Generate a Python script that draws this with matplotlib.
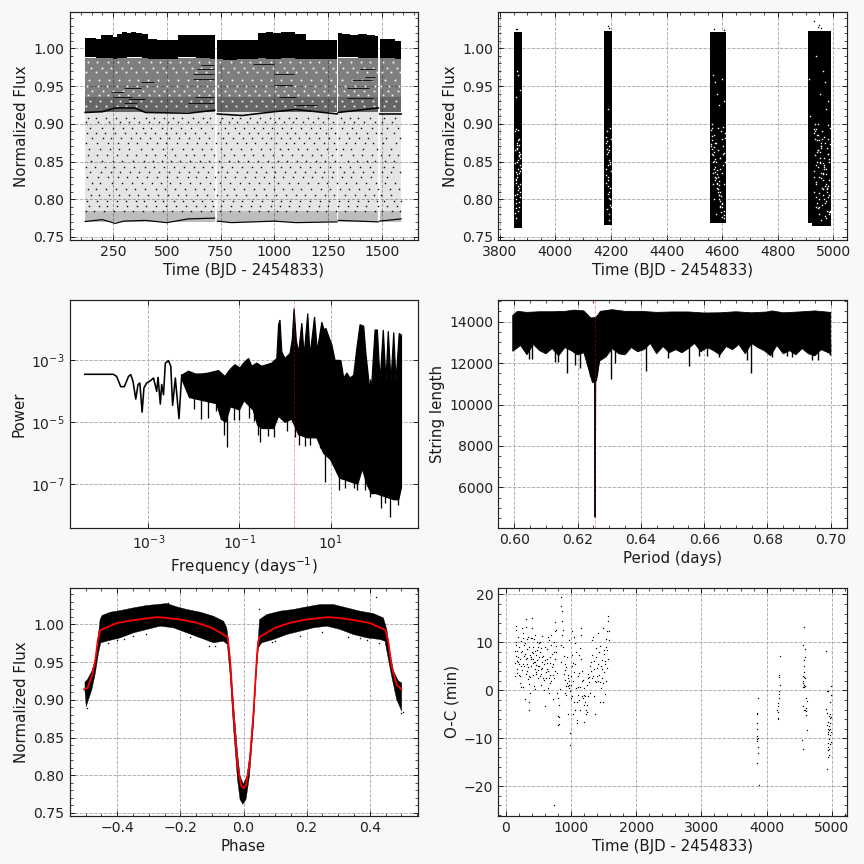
import numpy as np
import matplotlib
matplotlib.use("Agg")
import matplotlib.pyplot as plt
from matplotlib.ticker import AutoMinorLocator, NullLocator

nan = np.nan
# --- Panel 1: long-cadence light curve
lc_t = [120,150,190,195,215,240,255,285,300,325,345,370,395,425,480,545,560,590,620,650,680,722,nan,
        735,790,860,900,945,975,1010,1050,1080,1115,1180,1292,nan,
        1297,1330,1370,1410,1450,1484,nan,1490,1530,1590]
lc_top = [1.014,1.014,1.013,1.018,1.017,1.018,1.015,1.019,1.021,1.020,1.022,1.020,1.019,1.012,1.0105,1.011,1.018,1.017,1.018,1.017,1.018,1.018,nan,
          1.011,1.011,1.011,1.0105,1.020,1.021,1.020,1.021,1.022,1.019,1.011,1.011,nan,
          1.020,1.019,1.018,1.019,1.018,1.016,nan,1.012,1.012,1.010]
lc_bot = [.988,.988,.987,.987,.987,.987,.986,.987,.987,.988,.989,.988,.987,.986,.986,.986,.988,.989,.988,.987,.987,.986,nan,
          .986,.985,.986,.986,.987,.986,.986,.987,.987,.986,.986,.986,nan,
          .988,.988,.988,.987,.987,.987,nan,.987,.987,.986]
seg_t0 = [120,735,1297,1490]
seg_t1 = [722,1292,1484,1590]
band_lo = [.770,.785,.915,.935]
band_hi = [.785,.915,.935,.987]
band_density = [.26,.10,.60,.50]
eclipse2_t = [120,200,260,350,400,600,722,nan,735,850,1000,1100,1292,nan,1297,1484,nan,1490,1590]
eclipse2_f = [.915,.916,.921,.921,.915,.914,.918,nan,.913,.911,.916,.919,.913,nan,.915,.921,nan,.913,.913]
eclipse1_t = [120,200,260,300,400,500,600,722,nan,735,800,1000,1100,1292,nan,1297,1484,nan,1490,1590]
eclipse1_f = [.7705,.773,.768,.771,.772,.769,.774,.775,nan,.771,.769,.771,.769,.770,nan,.772,.770,nan,.771,.774]
dash_f  = [.978,.972,.966,.960,.956,.948,.942,.936,.933,.928,.979,.966,.958,.947,.936,.934,.962,.952,.936,.972,.925,.928]
dash_t0 = [660,640,620,620,380,300,240,250,320,600,900,1000,1360,1340,1020,1340,1420,1000,630,1400,1090,300]
dash_t1 = [720,720,720,720,440,380,300,340,400,720,1000,1090,1460,1440,1100,1460,1470,1080,720,1470,1200,360]
sparse_rows_f = [.908,.902,.895,.888,.881,.874,.866,.858,.851,.843,.836,.829,.821,.813,.806,.798,.791,.784]
sparse_rows_t = [
 [135,172,218,264,311,347,402,439,486,528,571,622,668,701,758,803,842,889,933,978,1021,1066,1102,1155,1201,1248,1308,1352,1391,1443,1512,1561],
 [126,181,229,283,326,369,415,462,503,553,598,644,689,747,791,828,872,918,957,1003,1044,1089,1133,1178,1226,1273,1326,1371,1418,1466,1503,1548],
 [144,196,248,297,338,389,427,478,519,566,612,657,712,772,815,861,904,949,991,1037,1078,1124,1169,1214,1262,1316,1363,1404,1452,1526,1574],
 [129,168,214,259,305,355,398,447,494,541,583,631,676,739,784,836,881,926,969,1012,1058,1097,1146,1192,1239,1283,1338,1381,1429,1473,1497,1555],
 [153,204,242,288,331,376,422,468,512,558,604,649,695,763,809,852,897,941,985,1029,1071,1117,1161,1208,1253,1302,1347,1396,1437,1519,1583],
 [122,177,225,271,319,363,409,452,497,547,593,638,684,729,776,824,868,912,963,1008,1052,1093,1139,1186,1232,1277,1332,1375,1423,1461,1506,1567],
 [139,188,235,279,324,381,433,482,525,575,617,663,706,751,797,845,892,937,981,1026,1063,1109,1152,1197,1244,1288,1319,1358,1412,1478,1541],
 [131,174,221,267,315,358,404,444,491,536,588,627,672,718,766,812,857,901,946,994,1035,1083,1128,1173,1219,1267,1311,1366,1408,1456,1494,1534,1577],
 [147,199,251,293,341,392,437,476,521,563,609,652,698,742,788,833,878,922,972,1016,1061,1105,1148,1194,1236,1281,1341,1386,1431,1469,1516,1558],
 [124,166,212,256,302,349,396,441,488,531,579,624,666,710,755,801,848,894,939,988,1032,1075,1121,1164,1211,1257,1306,1353,1399,1447,1508,1552],
 [142,193,238,284,329,372,418,465,509,556,601,646,692,736,781,827,874,916,959,1005,1049,1094,1142,1187,1229,1275,1323,1368,1414,1459,1499,1545,1586],
 [128,179,227,274,316,361,407,455,499,549,596,634,681,725,770,818,864,909,954,998,1042,1086,1131,1176,1222,1269,1313,1356,1402,1449,1522],
 [150,191,244,290,336,383,429,472,516,561,607,654,701,745,794,839,884,930,975,1019,1068,1112,1158,1203,1246,1291,1335,1379,1426,1471,1513,1562],
 [133,171,216,262,308,353,400,449,493,539,586,629,674,721,768,814,859,906,951,1000,1039,1081,1126,1171,1216,1260,1304,1349,1393,1439,1482,1537,1579],
 [146,186,232,277,322,367,413,459,506,551,591,642,687,733,778,821,870,914,961,1010,1054,1099,1144,1190,1234,1279,1328,1373,1420,1463,1496,1543],
 [127,175,220,266,310,356,394,443,484,534,577,621,665,708,760,806,850,896,943,987,1030,1073,1119,1166,1212,1255,1300,1344,1389,1434,1476,1510,1557,1588],
 [137,183,223,269,314,359,405,451,495,543,589,636,679,716,753,799,846,890,935,983,1024,1070,1114,1159,1206,1251,1296,1343,1384,1428,1480,1524,1569],
 [123,163,207,253,299,344,391,435,480,523,569,614,659,703,749,793,837,882,927,971,1014,1056,1101,1150,1199,1242,1286,1329,1377,1421,1468,1502,1549,1585]]
mid_rows_f = [.982,.974,.968,.958,.950,.944,.938,.930,.923]
mid_rows_t = [
 [132,175,226,271,318,372,425,469,516,562,604,648,696,749,798,843,887,932,984,1026,1071,1118,1164,1207,1258,1306,1355,1402,1445,1507,1553],
 [146,198,241,289,334,387,436,481,530,575,619,661,707,763,812,859,903,947,996,1043,1086,1133,1182,1226,1273,1321,1367,1416,1461,1522,1571],
 [125,169,215,264,309,355,401,452,498,544,590,635,683,741,786,829,875,921,967,1012,1057,1101,1149,1196,1241,1288,1338,1384,1429,1476,1499,1541,1584],
 [138,186,233,279,326,365,414,460,507,553,599,642,700,752,805,851,896,939,986,1032,1078,1126,1172,1219,1265,1314,1359,1408,1453,1515,1563],
 [129,178,222,268,315,361,408,455,501,549,594,640,688,736,781,826,870,916,961,1006,1052,1097,1143,1190,1235,1282,1329,1375,1422,1468,1496,1534,1578],
 [152,203,250,297,343,391,440,486,533,579,626,671,715,772,819,864,911,956,1001,1047,1092,1138,1186,1232,1278,1325,1371,1419,1463,1528,1575],
 [135,182,228,275,321,369,418,463,511,558,603,650,694,744,790,835,882,928,973,1019,1064,1110,1156,1203,1249,1296,1343,1390,1436,1504,1548],
 [144,191,238,284,330,378,426,473,520,566,612,657,705,757,802,848,893,941,988,1035,1081,1128,1175,1222,1269,1316,1363,1410,1457,1518,1566],
 [126,172,219,266,312,358,404,450,496,542,588,634,680,726,776,822,868,914,960,1004,1050,1096,1142,1188,1234,1280,1326,1372,1418,1464,1510,1556]]
# --- Panel 2: short-cadence seasons (min t, max t, top flux, bottom flux)
sc_t0 = [3851,4176,4556,4909,4924]
sc_t1 = [3880,4204,4614,4922,4992]
sc_top = [1.022,1.023,1.021,1.023,1.023]
sc_bot = [.7625,.7655,.769,.768,.765]
sc_out_t = [3858,4190,4192,4930,4945,4950,4955,4570,3862,4605]
sc_out_f = [1.026,1.030,1.027,1.036,1.028,1.031,1.027,1.025,1.026,1.024]
gap_t = [3856,3862,3870,3866,3858,3874,3860,3868,3872,3856,3864,3870,3860,3866,3874,3858,3868,3862,3872,3856,3866,3864,3860,3870,3868,3874,3862,3858,3866,3872,
         4186,4192,4198,4188,4194,4200,4184,4190,4196,4186,4192,4198,4188,4194,4190,4196,4184,4200,
         4562,4570,4578,4586,4594,4602,4566,4574,4582,4590,4598,4606,4560,4568,4576,4584,4592,4600,4564,4572,4580,4588,4596,4604,4610,4562,4570,4578,4586,4594,4602,4608,4566,4574,4582,4590,4598,4606,4568,4576,4584,4592,4600,
         4935,4945,4955,4965,4975,4985,4930,4940,4950,4960,4970,4980,4938,4948,4958,4968,4978,4988,4933,4943,4953,4963,4973,4983,4936,4946,4956,4966,4976,4986,4941,4951,4961,4971,4981,4931,4947,4957,4967,4977,4987,4934,4944,4954,4964,4974,4984,4939,4949,4959,4969,4979,4937,4952,4962,4972,4982,4942,4912,4917,
         3859,3865,3871,3855,3861,3867,3873,3857,3863,3869,3875,3859,3865,3871,3855,3861,3867,3873,3857,3863,
         4181,4187,4193,4199,4183,4189,4195,4185,4191,4197,4182,4188,4194,4186,4192,
         4559,4565,4571,4577,4583,4589,4595,4601,4607,4563,4569,4575,4581,4587,4593,4599,4605,4611,4561,4567,4573,4579,4585,4591,4597,4603,4609,4564,4570,4576,4582,4588,4594,4600,4606,
         4932,4942,4952,4962,4972,4982,4936,4946,4956,4966,4976,4986,4929,4939,4949,4959,4969,4979,4989,4934,4944,4954,4964,4974,4984,4931,4941,4951,4961,4971,4981,4937,4947,4957,4967,4977,4987]
gap_f = [.89,.875,.858,.84,.825,.81,.795,.88,.845,.865,.83,.815,.80,.785,.86,.836,.872,.85,.82,.805,.892,.868,.775,.79,.835,.855,.97,.935,.965,.945,
         .89,.87,.85,.83,.81,.79,.875,.845,.815,.86,.78,.895,.825,.865,.92,.80,.84,.88,
         .895,.885,.875,.865,.855,.845,.835,.825,.815,.805,.795,.785,.87,.85,.83,.81,.79,.88,.86,.84,.82,.80,.89,.87,.85,.90,.80,.78,.83,.84,.86,.82,.965,.955,.94,.925,.96,.93,.82,.875,.895,.855,.835,
         .90,.885,.87,.855,.84,.825,.81,.795,.78,.89,.875,.86,.845,.83,.815,.80,.785,.895,.88,.865,.85,.835,.82,.805,.79,.90,.87,.84,.81,.78,.885,.855,.825,.795,.86,.83,.80,.875,.845,.815,.785,.89,.865,.835,.805,.775,.85,.82,.79,.88,.955,.93,.99,.94,.97,.92,.88,.85,.96,.91,
         .893,.878,.862,.848,.833,.818,.803,.788,.872,.857,.842,.827,.812,.797,.782,.867,.852,.837,.822,.807,
         .882,.867,.852,.837,.822,.807,.792,.877,.862,.847,.832,.817,.802,.787,.772,
         .892,.878,.863,.849,.834,.819,.804,.79,.775,.884,.869,.854,.839,.824,.809,.794,.779,.888,.873,.858,.843,.828,.813,.798,.783,.896,.881,.866,.851,.836,.821,.806,.791,.776,.861,
         .893,.878,.863,.848,.833,.818,.803,.788,.773,.883,.868,.853,.838,.823,.808,.793,.778,.898,.873,.858,.843,.828,.813,.798,.783,.888,.863,.848,.833,.818,.803,.893,.878,.868,.843,.813,.783]
# --- Panel 3: periodogram (log10 values)
pg_logf = [-4.40,-3.77,-3.70,-3.61,-3.53,-3.44,-3.39,-3.34,-3.28,-3.23,-3.19,-3.14,-3.10,-3.04,-2.96,-2.89,-2.82,-2.79,-2.74,-2.71,-2.67,-2.63,-2.56,-2.51,-2.47,-2.41,-2.33,-2.27]
pg_logp = [-3.45,-3.45,-3.52,-3.85,-3.85,-3.52,-3.46,-3.68,-4.25,-3.78,-3.73,-4.67,-3.89,-3.73,-3.66,-3.57,-4.0,-3.55,-4.41,-3.78,-4.11,-3.09,-3.01,-3.19,-4.45,-3.57,-4.88,-3.48]
up_logf = [-2.27,-2.19,-2.12,-1.97,-1.83,-1.68,-1.46,-1.32,-1.21,-1.10,-.99,-.91,-.80,-.73,-.62,-.51,-.40,-.29,-.18,-.14,-.11,-.07,0,.11,.16,.20,.25,.30,.37,.42,.50,.55,.65,.71,.81,.86,.90,.96,1.03,1.10,1.18,1.23,1.29,1.36,1.43,1.51,1.58,1.65,1.73,1.78,1.86,1.91,1.98,2.03,2.09,2.16,2.22,2.27,2.33,2.39,2.44,2.51,2.56]
up_logp = [-3.48,-3.41,-3.35,-3.44,-3.44,-3.41,-3.33,-3.52,-3.30,-3.14,-3.25,-3.09,-2.94,-3.19,-3.09,-3.19,-3.14,-3.09,-2.94,-1.85,-1.70,-2.73,-2.94,-2.78,-2.33,-1.33,-2.38,-2.75,-1.80,-2.84,-1.49,-2.84,-1.60,-2.69,-1.77,-2.02,-1.97,-2.23,-2.5,-3.0,-3.0,-3.01,-3.57,-3.41,-3.57,-3.48,-2.60,-1.85,-1.90,-2.81,-3.89,-3.68,-2.02,-2.02,-3.68,-2.02,-3.68,-2.06,-3.68,-2.10,-3.68,-2.13,-2.19]
lo_logf = [-2.27,-2.1,-1.8,-1.5,-1.4,-1.3,-1.2,-1.0,-.9,-.7,-.6,-.5,-.4,-.25,-.14,0,.15,.3,.5,.7,.85,1.0,1.2,1.4,1.6,1.7,1.8,1.9,2.0,2.2,2.4,2.5,2.56]
lo_logp = [-3.6,-4.2,-4.3,-4.4,-4.9,-5.0,-4.5,-4.6,-4.3,-4.6,-5.1,-5.2,-5.2,-5.2,-4.8,-5.0,-4.9,-5.4,-5.5,-5.5,-6.0,-6.2,-6.8,-6.9,-7.0,-6.5,-7.0,-7.3,-7.3,-7.4,-7.5,-7.5,-7.1]
dip_logf = [-2.01,-1.84,-1.70,-1.51,-1.34,-1.27,-1.13,-1.02,-.80,-.69,-.60,-.54,-.38,-.25,.05,.22,.30,.44,.55,.77,.88,.96,1.18,1.32,1.51,1.59,1.76,1.87,2.11,2.20,2.31,2.49]
dip_logp = [-4.58,-4.89,-4.86,-4.65,-5.4,-5.81,-4.92,-4.92,-4.85,-4.95,-5.4,-5.64,-5.45,-5.47,-5.29,-5.47,-5.72,-5.78,-5.72,-5.83,-6.92,-6.15,-7.19,-7.12,-7.12,-7.19,-7.17,-7.42,-7.76,-7.6,-8.06,-7.66]
best_freq = 1.5987
# --- Panel 4: string length
sl_up_p = [.5995,.601,.604,.608,.612,.616,.619,.622,.6242,.6256,.6263,.6272,.6309,.635,.64,.645,.65,.655,.66,.665,.67,.675,.68,.6815,.685,.69,.695,.70]
sl_up_v = [14300,14500,14450,14480,14480,14500,14560,14520,14180,14200,14300,14500,14580,14500,14500,14450,14470,14470,14420,14430,14480,14430,14470,14520,14430,14470,14520,14450]
sl_lo_p = [.5995,.602,.604,.606,.608,.610,.612,.614,.616,.618,.620,.622,.6235,.6247,.626,.627,.629,.631,.633,.635,.637,.639,.641,.643,.645,.647,.649,.651,.653,.655,.657,.659,.661,.663,.665,.667,.669,.671,.673,.675,.677,.679,.681,.683,.685,.687,.689,.691,.693,.695,.697,.70]
sl_lo_v = [12570,12850,12400,12900,12600,12450,12700,12350,12750,12600,12400,12500,11700,11050,11150,12100,12300,12700,12450,12400,12750,12550,12650,12950,12450,12800,12500,12650,12500,12700,12950,12550,12750,12600,12400,12800,12650,12900,12450,12950,12750,12600,12350,12850,12450,12600,12400,12700,12450,12350,12650,12450]
sl_dip_p = [.6046,.6056,.6128,.6137,.6165,.6192,.6207,.6238,.6261,.6305,.6318,.6415,.6486,.6553,.6583,.6609,.6648,.6735,.6747,.6815,.6862,.6878,.6941,.6959,.6999]
sl_dip_v = [12200,12220,12050,12030,11520,11890,11760,11360,11410,11210,12020,11620,12250,11860,12330,12330,12300,12130,11540,12280,12330,12280,12170,12170,12400]
sl_well_p = [.6252,.6254,.62555,.6257,.6259]
sl_well_v = [12000,10800,4550,11000,12000]
best_period = .6255
# --- Panel 5: phased light curve
ph_up = [-.502,-.494,-.480,-.469,-.461,-.454,-.448,-.422,-.390,-.348,-.306,-.274,-.243,-.211,-.179,-.137,-.095,-.063,-.053,-.049,-.042,-.032,-.019,-.011,0,.011,.021,.034,.042,.047,.051,.074,.116,.158,.200,.243,.285,.327,.369,.411,.443,.454,.464,.475,.491,.501]
fx_up = [.9236,.9271,.9382,.9536,.9801,1.0066,1.0119,1.0163,1.0185,1.0221,1.0252,1.0265,1.0278,1.0234,1.0199,1.0163,1.0110,1.0044,.9956,.9823,.9536,.8962,.8300,.7991,.7880,.7991,.8300,.9006,.9580,.9823,1.0066,1.0132,1.0177,1.0199,1.0234,1.0265,1.0265,1.0221,1.0177,1.0146,1.0088,.9934,.9624,.9382,.9249,.9227]
ph_lo = [-.502,-.498,-.480,-.469,-.459,-.452,-.433,-.390,-.348,-.306,-.264,-.222,-.179,-.137,-.095,-.063,-.051,-.042,-.032,-.019,-.011,-.002,.008,.019,.032,.040,.047,.058,.095,.137,.179,.222,.264,.306,.348,.390,.432,.448,.459,.469,.485,.501]
fx_lo = [.9117,.8910,.9139,.9359,.9624,.9757,.9779,.9823,.9889,.9934,.9978,.9956,.9889,.9823,.9757,.9779,.9735,.9315,.8652,.7945,.7680,.7614,.7680,.7990,.8697,.9315,.9690,.9757,.9801,.9867,.9911,.9956,.9978,.9934,.9867,.9823,.9801,.9779,.9536,.9315,.9006,.8850]
md_ph = [-.505,-.494,-.480,-.469,-.461,-.454,-.40,-.35,-.30,-.274,-.25,-.20,-.15,-.10,-.05,-.042,-.032,-.019,-.008,0,.008,.019,.032,.042,.046,.05,.10,.15,.20,.25,.27,.30,.35,.40,.45,.459,.469,.485,.50]
md_fx = [.9139,.916,.9315,.9536,.9801,.9925,1.002,1.0058,1.0084,1.0097,1.0090,1.0066,1.0025,.9956,.9832,.951,.885,.8143,.787,.7827,.787,.8143,.885,.955,.975,.9832,.9956,1.0025,1.0066,1.0090,1.0097,1.0088,1.0058,1.002,.9925,.9757,.9446,.9203,.9139]
ph_out = [.42,-.24,-.245,.05,.27,-.11,-.40,-.38,.39,.10,.33,.18,-.43,-.17,-.35,-.09,.09,.43,.37,-.31,.25,.505,.50,-.497]
fx_out = [1.037,1.029,1.0275,1.020,1.025,.971,.979,.981,.979,.978,.984,.985,.976,.984,.985,.972,.977,.976,.982,.987,.990,.884,.882,.889]
# --- Panel 6: O-C
oc_t = [140,145,145,150,152,150,155,160,165,170,175,185,190,195,200,205,215,220,225,235,235,240,245,250,255,260,265,275,280,290,295,300,305,310,315,320,325,330,335,340,345,350,355,355,360,365,370,375,385,390,395,400,400,405,410,415,420,425,430,435,440,445,450,455,460,465,475,480,485,490,500,505,510,520,525,530,535,545,550,555,560,575,580,585,595,600,610,615,625,630,640,645,650,655,665,670,675,680,690,700,705,715,720,730,730,735,745,750,755,760,765,775,780,790,795,800,805,810,815,820,830,840,845,850,852,855,860,865,870,875,890,895,900,905,910,915,925,930,940,945,950,955,960,965,970,980,985,990,1000,1005,1010,1020,1025,1030,1040,1045,1050,1055,1065,1075,1085,1090,1095,1105,1115,1120,1130,1135,1140,1145,1150,1155,1165,1170,1180,1190,1195,1205,1215,1225,1235,1245,1250,1255,1265,1275,1285,1295,1305,1315,1325,1330,1340,1350,1355,1365,1375,1385,1395,1405,1415,1425,1435,1445,1450,1460,1465,1475,1485,1490,1495,1505,1510,1520,1525,1530,1535,1545,1550,1555,1565,1570,1575,1580,
        168,182,208,228,258,272,288,312,328,348,378,382,408,418,438,448,468,472,492,498,518,538,552,568,588,604,622,636,658,668,686,698,728,742,768,908,922,948,972,992,1012,1016,1036,1060,1070,1100,1110,1125,1160,1175,1200,1220,1240,1260,1280,1300,1320,1345,1360,1380,1400,1420,1440,1470,1480,1500,1515,1540,1560,
        3862,3852,3858,3858,3860,3858,3852,3860,3866,3862,3868,3855,3884,
        4200,4195,4185,4200,4195,4190,4185,4170,4175,4165,4180,4175,4178,
        4575,4555,4590,4585,4580,4575,4570,4565,4575,4585,4555,4565,4575,4590,4560,4580,4610,4615,4565,4605,4575,4595,4610,4600,4620,4550,4555,
        4910,4925,4940,4990,4985,4980,4915,4925,4960,4975,4985,4945,4975,4935,4965,4950,4960,4980,4985,4940,4950,4975,4960,4985,4975,4950,4945,4960,4955,4940,4935,4970,4940]
oc_v = [8.3,5.8,2.9,13.4,12.6,10.1,7.2,9.5,6.2,3.7,8.2,11.1,7.0,5.4,3.2,9.0,6.5,1.5,5.1,10.2,.7,12.9,8.1,4.2,12.0,11.0,.8,7.1,5.0,-1.8,9.8,3.5,13.3,14.9,10.8,8.6,6.8,5.5,2.3,11.1,4.8,1.3,-2.4,-4.0,9.0,7.3,-.6,2.8,6.5,10.9,11.0,15.0,8.0,12.9,5.6,3.2,7.8,10.6,6.0,1.0,11.5,.3,8.2,5.2,7.4,3.9,10.0,6.3,4.3,2.6,9.9,7.0,5.0,10.1,7.9,3.5,1.1,8.8,6.0,4.6,11.4,7.1,2.1,.1,-3.3,6.3,3.8,2.5,8.7,5.8,11.1,4.0,.5,-.5,10.5,5.7,3.1,1.6,11.5,7.6,4.9,-1.9,3.3,8.0,-23.9,2.5,14.2,12.3,6.5,4.0,12.5,9.2,3.7,-.5,-1.5,-7.2,-5.3,-3.0,-5.5,-7.1,.2,9.5,6.0,19.4,17.5,16.5,14.5,11.5,12.5,9.1,7.1,3.5,-.6,4.3,2.1,-.9,4.8,6.9,1.5,-5.0,.9,3.1,10.5,.5,1.9,-.2,-8.9,-11.4,-1.5,1.2,7.4,12.3,-5.0,5.7,-2.5,11.2,3.8,9.8,5.5,.5,-2.5,-6.8,-6.2,-1.0,7.3,3.6,8.9,-4.0,.8,6.5,13.0,11.5,-1.2,4.0,2.1,-6.5,-1.0,-3.1,-1.2,-4.0,-5.0,-3.0,-4.5,2.5,-1.2,1.8,5.0,-.5,4.0,10.5,7.4,11.2,3.0,-1.2,6.2,-5.0,1.8,8.9,4.6,11.9,2.0,7.9,3.3,-2.5,9.3,5.0,.5,6.3,1.5,-2.5,13.0,8.5,3.9,6.1,-.8,9.0,10.8,4.6,8.5,12.3,14.5,15.5,12.3,10.5,
        4.5,6.0,3.0,8.0,5.5,9.5,7.5,6.5,4.0,3.0,7.0,5.0,6.5,9.0,4.5,6.0,3.5,8.5,5.0,9.0,3.0,4.5,7.0,2.5,5.5,9.0,6.5,4.5,2.5,7.0,2.0,9.5,5.5,10.0,8.0,5.5,1.0,2.5,1.2,3.0,5.0,-1.2,2.0,-4.0,8.0,.8,3.0,-2.0,2.0,-1.5,.5,-2.5,1.2,3.5,2.8,6.0,2.5,4.5,2.0,7.0,3.0,5.5,1.8,4.5,2.5,7.5,5.5,2.0,6.5,
        -1.5,-4.8,-5.0,-6.8,-8.0,-9.5,-10.2,-10.5,-10.0,-11.8,-13.0,-15.1,-19.7,
        7.1,3.3,2.8,1.2,-.1,-.7,-1.5,-2.6,-3.2,-4.2,-4.5,-5.8,-6.0,
        13.3,9.5,8.7,7.0,6.3,5.0,3.9,3.0,2.8,2.5,1.9,1.5,1.2,.9,.7,.8,-1.5,-2.2,-3.2,-3.6,-4.0,-4.2,-4.3,-5.2,-8.3,-10.4,-12.3,
        8.3,-.1,-.2,.9,-1.0,-2.4,-3.8,-4.8,-5.3,-5.8,-5.6,-6.5,-6.8,-7.2,-7.5,-8.0,-8.3,-8.0,-8.6,-8.6,-9.1,-9.3,-10.2,-10.8,-11.2,-11.8,-12.5,-12.3,-13.5,-14.0,-16.3,-5.0,-11.0]

plt.rcParams.update({"font.family": "DejaVu Sans", "font.size": 15,
                     "axes.edgecolor": "#222222", "axes.linewidth": 1.2,
                     "text.color": "#1a1a1a", "axes.labelcolor": "#1a1a1a",
                     "xtick.color": "#222222", "ytick.color": "#222222"})

fig = plt.figure(figsize=(12, 12), dpi=72, facecolor="#f8f8f8")
W = H = 864.0
cols = [(69.5, 417.5), (498.3, 846.7)]
rows = [(11.5, 240.0), (299.7, 528.0), (587.7, 816.0)]

def make_ax(r, c, minor=True):
    x0, x1 = cols[c]
    y0, y1 = rows[r]
    ax = fig.add_axes([x0 / W, 1 - y1 / H, (x1 - x0) / W, (y1 - y0) / H])
    ax.set_axisbelow(True)
    ax.grid(True, ls="--", color="#aaaaaa", lw=0.9)
    ax.tick_params(which="major", direction="in", top=True, right=True, length=5, width=1, labelsize=14, pad=5)
    ax.tick_params(which="minor", direction="in", top=True, right=True, length=3, width=0.8)
    if minor:
        ax.xaxis.set_minor_locator(AutoMinorLocator())
        ax.yaxis.set_minor_locator(AutoMinorLocator())
    return ax

# Panel 1
ax = make_ax(0, 0)
for lo, hi, d in zip(band_lo, band_hi, band_density):
    for a, b in zip(seg_t0, seg_t1):
        ax.fill_between([a, b], [lo, lo], [hi, hi], color="k", alpha=d, lw=0)
for f, ts in zip(mid_rows_f, mid_rows_t):
    ax.plot(ts, [f] * len(ts), ls="none", marker="s", ms=1.7, mew=0, color="w")
for f, ts in zip(sparse_rows_f, sparse_rows_t):
    ax.plot(ts, [f] * len(ts), ls="none", marker="s", ms=1.4, mew=0, color="k")
ax.hlines(dash_f, dash_t0, dash_t1, color="k", lw=0.8)
ax.plot(eclipse2_t, eclipse2_f, color="k", lw=1.6)
ax.plot(eclipse1_t, eclipse1_f, color="k", lw=1.2)
ax.fill_between(lc_t, lc_bot, lc_top, color="k", lw=0, step="mid")
ax.set_xlim(47, 1666)
ax.set_ylim(.746, 1.0488)
ax.set_xticks([250, 500, 750, 1000, 1250, 1500])
ax.set_yticks([.75, .80, .85, .90, .95, 1.00])
ax.set_xlabel("Time (BJD - 2454833)")
ax.set_ylabel("Normalized Flux")

# Panel 2
ax = make_ax(0, 1)
for a, b, t, l in zip(sc_t0, sc_t1, sc_top, sc_bot):
    ax.fill_between([a, b], [l, l], [t, t], color="k", lw=0)
ax.plot(sc_out_t, sc_out_f, ls="none", marker="s", ms=1.3, mew=0, color="k")
ax.plot(gap_t, gap_f, ls="none", marker="s", ms=1.4, mew=0, color="w")
ax.set_xlim(3795, 5048)
ax.set_ylim(.746, 1.0488)
ax.set_xticks([3800, 4000, 4200, 4400, 4600, 4800, 5000])
ax.set_yticks([.75, .80, .85, .90, .95, 1.00])
ax.set_xlabel("Time (BJD - 2454833)")
ax.set_ylabel("Normalized Flux")

# Panel 3
ax = make_ax(1, 0, minor=False)
ax.set_xscale("log"); ax.set_yscale("log")
ax.plot(10.0 ** np.array(pg_logf), 10.0 ** np.array(pg_logp), color="k", lw=1.6)
ax.fill(10.0 ** np.r_[up_logf, lo_logf[::-1]], 10.0 ** np.r_[up_logp, lo_logp[::-1]], color="k", lw=1.2)
ax.vlines(10.0 ** np.array(dip_logf), 10.0 ** np.array(dip_logp), 1e-3 * 10.0 ** -0.6, color="k", lw=1.3)
ax.axvline(best_freq, color="r", ls="--", lw=0.9, alpha=0.4)
ax.set_xlim(10 ** -4.736, 10 ** 2.912)
ax.set_ylim(10 ** -8.41, 10 ** -1.043)
ax.set_xticks([1e-3, 1e-1, 1e1]); ax.set_yticks([1e-7, 1e-5, 1e-3])
ax.xaxis.set_minor_locator(NullLocator()); ax.yaxis.set_minor_locator(NullLocator())
ax.set_xlabel("Frequency (days$^{-1}$)")
ax.set_ylabel("Power")

# Panel 4
ax = make_ax(1, 1)
ax.fill(np.r_[sl_up_p, sl_lo_p[::-1]], np.r_[sl_up_v, sl_lo_v[::-1]], color="k", lw=0.8)
ax.vlines(sl_dip_p, sl_dip_v, 13000, color="k", lw=1.4)
ax.fill(sl_well_p, sl_well_v, color="k", lw=1.2)
ax.axvline(best_period, color="r", ls="--", lw=0.9, alpha=0.4)
ax.set_xlim(.59494, .70506)
ax.set_ylim(4037, 15062)
ax.set_xticks([.60, .62, .64, .66, .68, .70])
ax.set_yticks([6000, 8000, 10000, 12000, 14000])
ax.set_xlabel("Period (days)")
ax.set_ylabel("String length")

# Panel 5
ax = make_ax(2, 0)
ax.fill(np.r_[ph_up, ph_lo[::-1]], np.r_[fx_up, fx_lo[::-1]], color="k", lw=0.4)
ax.plot(ph_out, fx_out, ls="none", marker="s", ms=1.3, mew=0, color="k")
ax.plot(md_ph, md_fx, color="r", lw=1.8)
ax.set_xlim(-.551, .551)
ax.set_ylim(.746, 1.0488)
ax.set_xticks([-.4, -.2, 0, .2, .4])
ax.set_yticks([.75, .80, .85, .90, .95, 1.00])
ax.set_xlabel("Phase")
ax.set_ylabel("Normalized Flux")

# Panel 6
ax = make_ax(2, 1)
ax.plot(oc_t, oc_v, ls="none", marker="s", ms=1.2, mew=0, color="k")
ax.set_xlim(-118, 5230)
ax.set_ylim(-26.2, 21.4)
ax.set_xticks([0, 1000, 2000, 3000, 4000, 5000])
ax.set_yticks([-20, -10, 0, 10, 20])
ax.set_xlabel("Time (BJD - 2454833)")
ax.set_ylabel("O-C (min)")

fig.savefig("out.png", dpi=72, facecolor=fig.get_facecolor())
